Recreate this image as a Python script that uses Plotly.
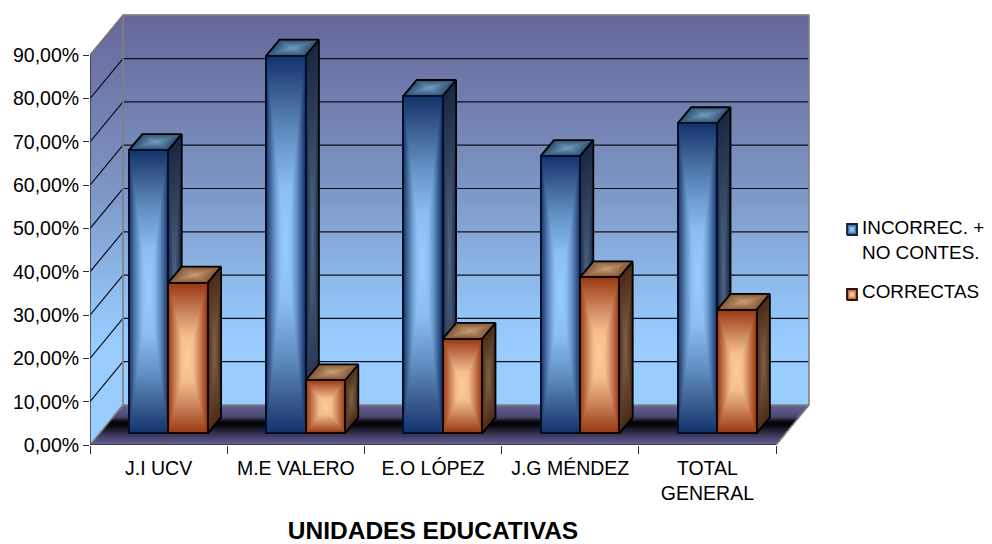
import numpy as np
import plotly.graph_objects as go

categories = ["J.I UCV", "M.E VALERO", "E.O LÓPEZ", "J.G MÉNDEZ", "TOTAL<br>GENERAL"]
incorrectas = [65.4, 87.2, 77.9, 64.0, 71.6]
correctas = [34.8, 12.2, 21.8, 36.0, 28.5]
y_values = [0, 10, 20, 30, 40, 50, 60, 70, 80, 90]
y_labels = ["0,00%", "10,00%", "20,00%", "30,00%", "40,00%", "50,00%", "60,00%", "70,00%", "80,00%", "90,00%"]
name_a = "INCORREC. +<br>NO CONTES."
name_b = "CORRECTAS"

# geometry of the projected chart box, in window pixels
PAGE = 8                   # the page's own body margin
PX0, PY0 = 90.0, 445.0     # origin of the front plane
SX, SY = 137.2, 4.33       # px per category, px per percent
PLOT_R, PLOT_T = 862.0, 10.0
WALL_DX, WALL_DY = 33.0, 40.0
LIFT_DX, LIFT_DY = 9.7, 11.7
BAR_DX, BAR_DY = 13.4, 16.0
BAR_W = 39.4
N = len(categories)
x_end = float(N)
wdx, wdy = WALL_DX / SX, WALL_DY / SY
ldx, ldy = LIFT_DX / SX, LIFT_DY / SY
bdx, bdy = BAR_DX / SX, BAR_DY / SY
bw = BAR_W / SX

def rgb(c):
    return "rgb(%d,%d,%d)" % c

def face(O, A, B, colorscale, zfun, axes, zmin=0, zmax=1):
    """Heatmap filling the parallelogram O + s*A + r*B, at one pixel per cell."""
    pts = np.array([O, (O[0]+A[0], O[1]+A[1]), (O[0]+B[0], O[1]+B[1]), (O[0]+A[0]+B[0], O[1]+A[1]+B[1])])
    xmin, xmax = pts[:, 0].min(), pts[:, 0].max()
    ymin, ymax = pts[:, 1].min(), pts[:, 1].max()
    nx = max(int(round((xmax-xmin)*SX)), 2)
    ny = max(int(round((ymax-ymin)*SY)), 2)
    xs = xmin + (np.arange(nx)+0.5)*(xmax-xmin)/nx
    ys = ymin + (np.arange(ny)+0.5)*(ymax-ymin)/ny
    X, Y = np.meshgrid(xs, ys)
    det = A[0]*B[1]-A[1]*B[0]
    dX, dY = X-O[0], Y-O[1]
    s = (dX*B[1]-dY*B[0])/det
    r = (A[0]*dY-A[1]*dX)/det
    Z = zfun(s, r, X, Y)
    Z = np.where((s >= -0.001) & (s <= 1.001) & (r >= -0.001) & (r <= 1.001), Z, np.nan)
    return go.Heatmap(x=xs, y=ys, z=Z, colorscale=colorscale, zmin=zmin, zmax=zmax, showscale=False,
                      hoverinfo="skip", xaxis=axes[0], yaxis=axes[1], zsmooth=False)

def rect_grad(s, r, X, Y):
    return np.maximum(np.abs(2*s-1), np.abs(2*r-1))

def py_of(Y):
    return PY0 - Y*SY

# wall gradient, by pixel row: 0 at py=14, 1 at py=405
wall_scale = [[0, rgb((102, 102, 153))], [0.45, rgb((125, 150, 197))], [0.74, rgb((145, 193, 243))],
              [0.85, rgb((153, 204, 255))], [1, rgb((153, 204, 255))]]
def wall_z(s, r, X, Y):
    return np.clip((py_of(Y)-14)/391, 0, 1)

floor_scale = [[0, rgb((104, 98, 152))], [0.3, rgb((75, 70, 110))], [0.42, rgb((5, 5, 8))], [0.5, rgb((5, 5, 10))],
               [0.75, rgb((60, 55, 90))], [1, rgb((104, 100, 155))]]
def floor_z(s, r, X, Y):
    return np.clip((py_of(Y)-405)/40, 0, 1)

blue_front = [[0, rgb((150, 205, 255))], [0.3, rgb((140, 190, 240))], [0.6, rgb((95, 140, 190))],
              [0.8, rgb((60, 95, 145))], [1, rgb((18, 50, 108))]]
blue_side = [[0, rgb((78, 103, 133))], [1, rgb((26, 38, 65))]]
blue_top = [[0, rgb((115, 158, 192))], [1, rgb((44, 78, 112))]]
orange_front = [[0, rgb((255, 204, 153))], [0.3, rgb((245, 190, 140))], [0.6, rgb((205, 135, 95))],
                [0.8, rgb((180, 95, 55))], [1, rgb((150, 55, 18))]]
orange_side = [[0, rgb((128, 98, 72))], [1, rgb((75, 42, 22))]]
orange_top = [[0, rgb((202, 158, 118))], [1, rgb((130, 85, 52))]]

low = ("x2", "y2")
up = ("x3", "y3")

def line(xs, ys, color, width, axes):
    return go.Scatter(x=xs, y=ys, mode="lines", line=dict(color=color, width=width), showlegend=False,
                      hoverinfo="skip", cliponaxis=False, xaxis=axes[0], yaxis=axes[1])

traces = []
# the main subplot only carries the visible axes and the legend names
traces.append(go.Scatter(x=[None], y=[None], mode="markers", name=name_a, legendgroup="a",
                         marker=dict(symbol="square", size=10, color="rgba(0,0,0,0)")))
traces.append(go.Scatter(x=[None], y=[None], mode="markers", name=name_b, legendgroup="b",
                         marker=dict(symbol="square", size=10, color="rgba(0,0,0,0)")))

# walls and floor (lower layer)
traces.append(face((0, 0), (wdx, wdy), (0, 90), wall_scale, wall_z, low))
traces.append(face((wdx, wdy), (x_end, 0), (0, 90), wall_scale, wall_z, low))
traces.append(face((0, 0), (x_end, 0), (wdx, wdy), floor_scale, floor_z, low))

# gridlines
for v in y_values[1:]:
    traces.append(line([0, wdx, x_end+wdx], [v, v+wdy, v+wdy], "#101018", 1.2, low))
# box edges
GREY = "#808080"
traces.append(line([0, wdx, x_end+wdx, x_end+wdx, x_end], [90, 90+wdy, 90+wdy, wdy, 0], GREY, 1.6, low))
traces.append(line([0, wdx, wdx, x_end+wdx], [0, wdy, 90+wdy, 90+wdy], GREY, 1.6, low))
traces.append(line([wdx, x_end+wdx], [wdy, wdy], GREY, 1.6, low))
# axis lines
traces.append(line([0, 0], [0, 90], "#303030", 1.4, low))
traces.append(line([0, x_end], [0, 0], "#303030", 1.4, low))

# bars (upper layer)
centres = [i + 0.5 + ldx for i in range(N)]
for i in range(N):
    xc = centres[i]
    a, b = incorrectas[i], correctas[i]
    traces.append(face((xc-bw, ldy+a), (bw, 0), (bdx, bdy), blue_top, rect_grad, up))
    traces.append(face((xc, ldy), (bdx, bdy), (0, a), blue_side, rect_grad, up))
    traces.append(face((xc-bw, ldy), (bw, 0), (0, a), blue_front, rect_grad, up))
    traces.append(face((xc, ldy+b), (bw, 0), (bdx, bdy), orange_top, rect_grad, up))
    traces.append(face((xc+bw, ldy), (bdx, bdy), (0, b), orange_side, rect_grad, up))
    traces.append(face((xc, ldy), (bw, 0), (0, b), orange_front, rect_grad, up))

OUT = "#000000"
traces.append(go.Bar(x=centres, y=incorrectas, base=ldy, width=bw, offset=-bw, xaxis=up[0], yaxis=up[1],
                     marker=dict(color="rgba(0,0,0,0)", line=dict(color="#00102a", width=2)),
                     showlegend=False, hoverinfo="skip"))
traces.append(go.Bar(x=centres, y=correctas, base=ldy, width=bw, offset=0, xaxis=up[0], yaxis=up[1],
                     marker=dict(color="rgba(0,0,0,0)", line=dict(color="#140500", width=2)),
                     showlegend=False, hoverinfo="skip"))
for i in range(N):
    xc = centres[i]
    a, b = incorrectas[i] + ldy, correctas[i] + ldy
    traces.append(line([xc-bw, xc-bw+bdx, xc+bdx, xc], [a, a+bdy, a+bdy, a], OUT, 1.8, up))
    traces.append(line([xc+bdx, xc+bdx], [a+bdy, b+bdy], OUT, 1.8, up))
    traces.append(line([xc, xc+bdx, xc+bw+bdx, xc+bw, xc+bw+bdx, xc+bw+bdx, xc+bw],
                       [b, b+bdy, b+bdy, b, b+bdy, ldy+bdy, ldy], OUT, 1.8, up))

# legend swatches with the bars' gradient; the legend itself carries the names
def swatch(px_l, px_r, py_t, py_b, scale, edge):
    O = ((px_l-PX0)/SX, (PY0-py_b)/SY)
    w, h = (px_r-px_l)/SX, (py_b-py_t)/SY
    traces.append(face(O, (w, 0), (0, h), scale, rect_grad, up))
    traces.append(line([O[0], O[0]+w, O[0]+w, O[0], O[0]], [O[1], O[1], O[1]+h, O[1]+h, O[1]], edge, 1.8, up))

swatch(847, 857, 224, 235, blue_front, "#10233f")
swatch(847, 857, 289, 300, orange_front, "#2a1206")

FONT = "Liberation Sans"
FS = 19.5
plot_w = PLOT_R-PX0
xrange_full = [0, plot_w/SX]
yrange_ = [0, (PY0-PLOT_T)/SY]
hidden = dict(visible=False, fixedrange=True, domain=[0, 1])
fig = go.Figure(traces)
fig.update_layout(
    width=992-PAGE, height=544-PAGE, autosize=False,
    margin=dict(l=PX0-PAGE, r=992-PLOT_R, t=PLOT_T-PAGE, b=544-PY0, autoexpand=False),
    paper_bgcolor="rgba(0,0,0,0)", plot_bgcolor="rgba(0,0,0,0)",
    font=dict(family=FONT, size=FS, color="black"),
    barmode="overlay", bargap=0,
    legend=dict(x=(822-PX0)/plot_w, y=(PY0-208)/(PY0-PLOT_T), xanchor="left", yanchor="top", bgcolor="rgba(0,0,0,0)",
                font=dict(family=FONT, size=18.9), tracegroupgap=12, itemclick=False, itemdoubleclick=False),
    xaxis=dict(range=[0, x_end], domain=[0, x_end*SX/plot_w], tickmode="array",
               tickvals=[i+0.5 for i in range(N)], ticktext=categories,
               ticks="", showgrid=False, zeroline=False, showline=False, fixedrange=True, ticklabelstandoff=9,
               tickangle=0, tickfont=dict(family=FONT, size=FS),
               minor=dict(tickmode="array", tickvals=list(range(N+1)), ticks="outside", ticklen=8,
                          tickcolor="#303030", tickwidth=1, showgrid=False),
               title=dict(text="<b>UNIDADES EDUCATIVAS</b>", font=dict(family=FONT, size=24.5), standoff=21)),
    yaxis=dict(range=yrange_, tickmode="array", tickvals=y_values, ticktext=y_labels, ticks="outside",
               ticklen=6, tickcolor="#303030", tickwidth=1, showgrid=False, zeroline=False, showline=False,
               fixedrange=True, tickfont=dict(family=FONT, size=FS)),
    xaxis2=dict(range=xrange_full, anchor="y2", **hidden),
    yaxis2=dict(range=yrange_, anchor="x2", **hidden),
    xaxis3=dict(range=xrange_full, anchor="y3", **hidden),
    yaxis3=dict(range=yrange_, anchor="x3", **hidden),
)
fig.write_html("out.html")
